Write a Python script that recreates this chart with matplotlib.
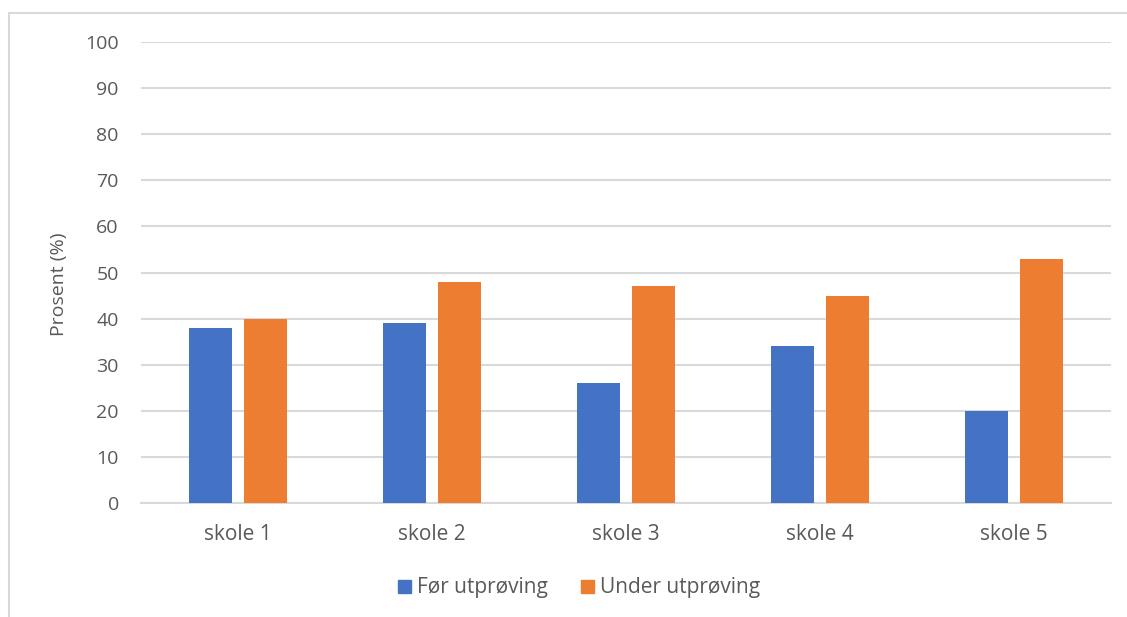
import matplotlib
matplotlib.use("Agg")
import matplotlib.pyplot as plt
from matplotlib.patches import Rectangle
from matplotlib.lines import Line2D
import numpy as np

schools = ["skole 1", "skole 2", "skole 3", "skole 4", "skole 5"]
before = [38, 39, 26, 34, 20]
during = [40, 48, 47, 45, 53]
series_names = ["Før utprøving", "Under utprøving"]
yticks = [0, 10, 20, 30, 40, 50, 60, 70, 80, 90, 100]

blue = "#4472C4"
orange = "#ED7D31"
text_col = "#595959"
grid_col = "#D9D9D9"

plt.rcParams["font.family"] = ["Open Sans", "DejaVu Sans"]

W, H = 1127, 617
fig = plt.figure(figsize=(W / 100, H / 100), dpi=100)

# outer chart frame (top and left edges visible)
fig.add_artist(Line2D([8.5 / W, 1.0], [1 - 12.5 / H, 1 - 12.5 / H],
                      transform=fig.transFigure, color="#D9D9D9", lw=1.5))
fig.add_artist(Line2D([8.5 / W, 8.5 / W], [0, 1 - 12.5 / H],
                      transform=fig.transFigure, color="#D9D9D9", lw=1.5))

ax = fig.add_axes([141 / W, (H - 503) / H, (1111 - 141) / W, (503 - 42) / H])

x = np.arange(len(schools))
bw = 0.222
off = 0.143
ax.bar(x - off, before, width=bw, color=blue, zorder=3)
ax.bar(x + off, during, width=bw, color=orange, zorder=3)

ax.set_xlim(-0.5, len(schools) - 0.5)
ax.set_ylim(0, 100)
ax.set_yticks(yticks)
ax.set_yticklabels([str(v) for v in yticks])
ax.set_xticks(x)
ax.set_xticklabels(schools)
ax.yaxis.grid(True, color=grid_col, lw=1.5, zorder=0)
ax.set_axisbelow(True)
for s in ["top", "right", "left"]:
    ax.spines[s].set_visible(False)
ax.spines["bottom"].set_color(grid_col)
ax.spines["bottom"].set_linewidth(1.5)
ax.tick_params(axis="y", length=0, labelsize=14, colors=text_col, pad=16)
ax.tick_params(axis="x", length=0, labelsize=15, colors=text_col, pad=15)
ax.set_ylabel("Prosent (%)", fontsize=14, color=text_col)
ax.yaxis.set_label_coords(-0.075, 0.475)

handles = [Rectangle((0, 0), 1, 1, color=blue), Rectangle((0, 0), 1, 1, color=orange)]
fig.legend(handles, series_names, loc="center", bbox_to_anchor=(579 / W, 1 - 588 / H),
           ncol=2, frameon=False, fontsize=15, labelcolor=text_col,
           handlelength=0.6, handleheight=0.6, handletextpad=0.3, columnspacing=1.6)

fig.savefig("out.png", dpi=100, facecolor="white")
